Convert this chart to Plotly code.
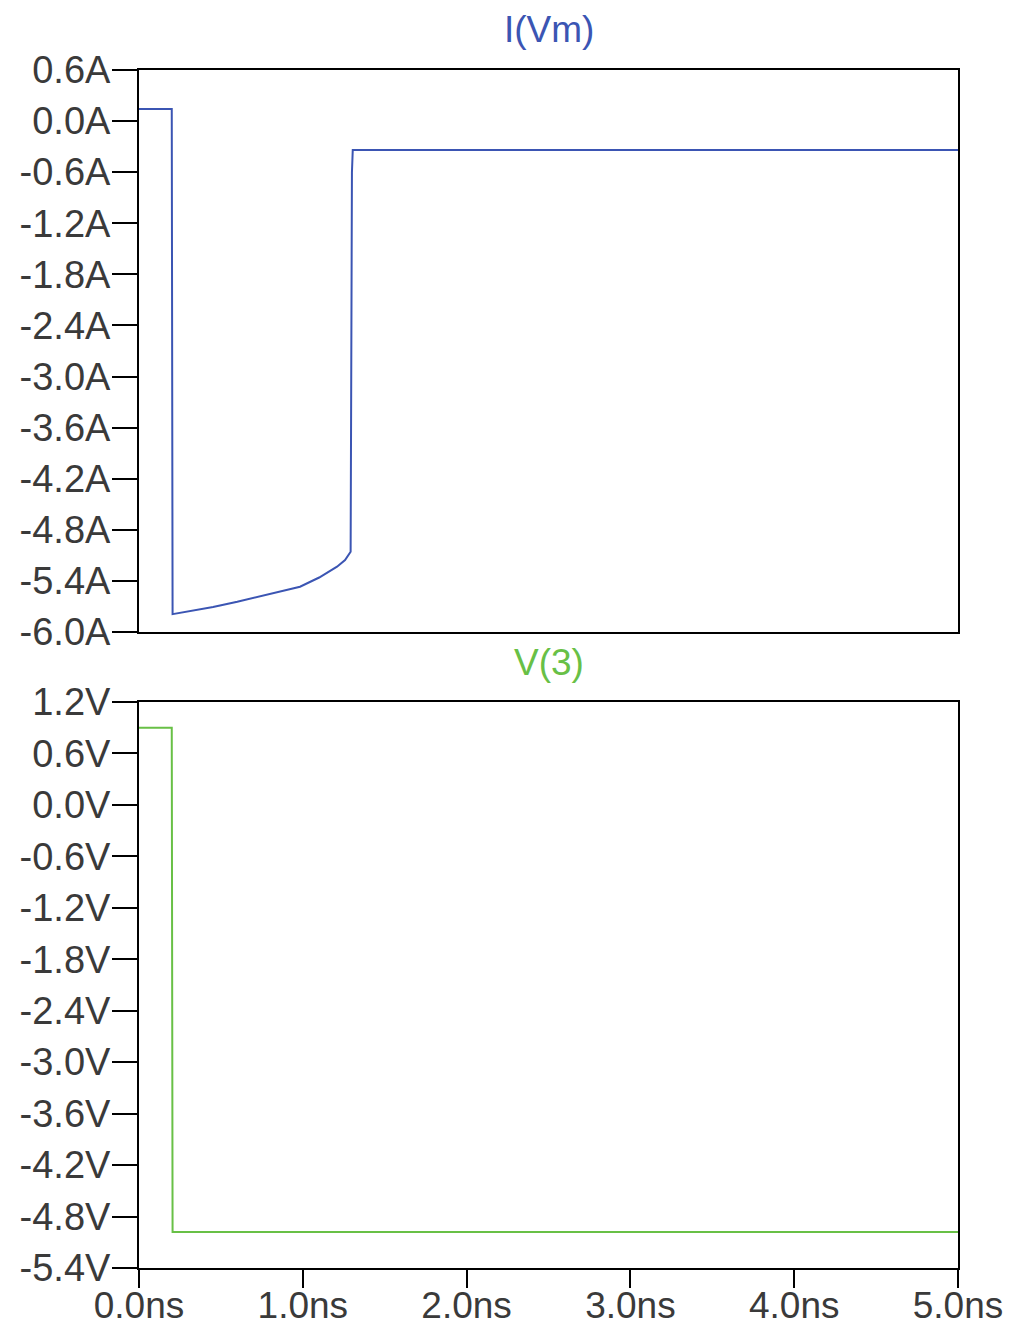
import plotly.graph_objects as go

# Data
t_i = [0.0, 0.200, 0.205, 0.30, 0.452, 0.60, 0.708, 0.85, 0.983, 1.10, 1.209, 1.258, 1.292, 1.300, 1.305, 2.0, 3.0, 4.0, 5.0]
i_vm = [0.142, 0.142, -5.79, -5.76, -5.706, -5.645, -5.595, -5.535, -5.468, -5.36, -5.233, -5.155, -5.057, -0.60, -0.34, -0.34, -0.34, -0.34, -0.34]

t_v = [0.0, 0.200, 0.205, 1.0, 2.0, 3.0, 4.0, 5.0]
v_3 = [0.90, 0.90, -4.98, -4.98, -4.98, -4.98, -4.98, -4.98]

x_ticks = [0.0, 1.0, 2.0, 3.0, 4.0, 5.0]
x_ticklabels = ["0.0ns", "1.0ns", "2.0ns", "3.0ns", "4.0ns", "5.0ns"]
i_ticks = [0.6, 0.0, -0.6, -1.2, -1.8, -2.4, -3.0, -3.6, -4.2, -4.8, -5.4, -6.0]
v_ticks = [1.2, 0.6, 0.0, -0.6, -1.2, -1.8, -2.4, -3.0, -3.6, -4.2, -4.8, -5.4]

def fmt(v, unit):
    v = round(v, 1) + 0.0
    if abs(v) < 1e-9:
        v = 0.0
    return f"{v:.1f}{unit}"

blue = "#3b55b3"
green = "#68c046"
font = dict(family="Liberation Sans, Arial, sans-serif", size=38, color="#3a3a3a")

fig = go.Figure()
fig.add_trace(go.Scatter(x=t_i, y=i_vm, mode="lines", line=dict(color=blue, width=2),
                         xaxis="x", yaxis="y", showlegend=False))
fig.add_trace(go.Scatter(x=t_v, y=v_3, mode="lines", line=dict(color=green, width=2),
                         xaxis="x2", yaxis="y2", showlegend=False))

H = 1326
T, B = 70, 58
ph = H - T - B
top_lo = (1268 - 632) / ph
bot_hi = (1268 - 702) / ph

axis_common = dict(showgrid=False, zeroline=False, showline=True, linecolor="black",
                   linewidth=2, mirror=True, automargin=False)

fig.update_layout(
    width=1025, height=H,
    margin=dict(l=139, r=67, t=T, b=B, autoexpand=False),
    paper_bgcolor="white", plot_bgcolor="white",
    font=font,
    xaxis=dict(domain=[0, 1], range=[0, 5], anchor="y", showticklabels=False,
               ticks="", **axis_common),
    yaxis=dict(domain=[top_lo, 1], range=[-6.0, 0.6], anchor="x",
               tickvals=i_ticks, ticktext=[fmt(v, "A") for v in i_ticks],
               ticks="outside", ticklen=25, tickwidth=2, tickcolor="black",
               ticklabelstandoff=-6, **axis_common),
    xaxis2=dict(domain=[0, 1], range=[0, 5], anchor="y2",
                tickvals=x_ticks, ticktext=x_ticklabels,
                ticks="outside", ticklen=18, tickwidth=2, tickcolor="black",
                ticklabelstandoff=-14, tickfont=dict(size=37), **axis_common),
    yaxis2=dict(domain=[0, bot_hi], range=[-5.4, 1.2], anchor="x2",
                tickvals=v_ticks, ticktext=[fmt(v, "V") for v in v_ticks],
                ticks="outside", ticklen=25, tickwidth=2, tickcolor="black",
                ticklabelstandoff=-6, **axis_common),
    annotations=[
        dict(text="I(Vm)", xref="paper", yref="paper", x=0.5, y=1, yshift=18,
             xanchor="center", yanchor="bottom", showarrow=False,
             font=dict(family=font["family"], size=37, color=blue)),
        dict(text="V(3)", xref="paper", yref="paper", x=0.5, y=top_lo, yshift=-8,
             xanchor="center", yanchor="top", showarrow=False,
             font=dict(family=font["family"], size=37, color=green)),
    ],
)

fig.write_html("out.html")
